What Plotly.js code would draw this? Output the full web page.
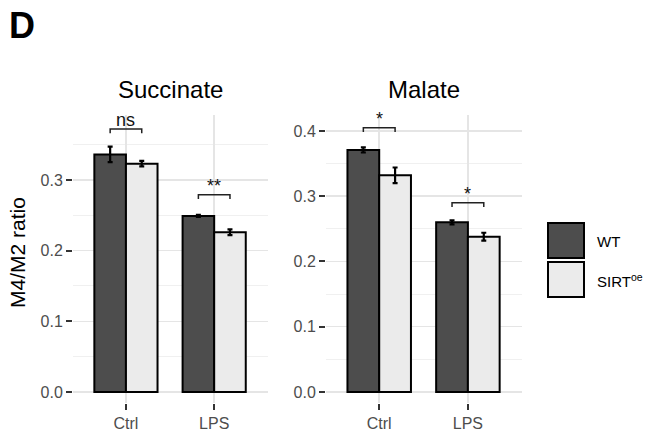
<!DOCTYPE html>
<html>
<head>
<meta charset="utf-8">
<script src="https://cdn.plot.ly/plotly-3.0.1.min.js"></script>
<style>html,body{margin:0;padding:0;background:#fff;}#chart{width:649px;height:439px;}</style>
</head>
<body>
<div id="chart"></div>
<script>
// ---- data ----
const categories = ['Ctrl', 'LPS'];
const catIndex = [0, 1];
const groups = ['WT', 'SIRT<sup>oe</sup>'];
const panels = ['Succinate', 'Malate'];

const succWT = [0.336, 0.249];
const succWTErr = [0.011, 0.0015];
const succSIRT = [0.323, 0.226];
const succSIRTErr = [0.004, 0.004];

const malWT = [0.371, 0.260];
const malWTErr = [0.004, 0.003];
const malSIRT = [0.332, 0.238];
const malSIRTErr = [0.012, 0.006];

const succSigY = [0.372, 0.279];
const succSigLabel = ['ns', '**'];
const malSigY = [0.405, 0.290];
const malSigLabel = ['*', '*'];

// ---- styles ----
const wtColor = '#4d4d4d';
const sirtColor = '#ebebeb';
const font = 'Liberation Sans, Arial, Helvetica, sans-serif';
const tickFont = {family: font, size: 16, color: '#4d4d4d'};
const bargap = 0.284;
const halfOff = (1 - bargap) / 4;

function barTrace(y, err, color, name, xa, ya) {
  return {
    type: 'bar', x: catIndex, y: y, name: name, xaxis: xa, yaxis: ya,
    marker: {color: color, line: {color: '#000', width: 2}},
    error_y: {type: 'data', array: err, visible: true, color: '#000', thickness: 2.2, width: 2.5},
    showlegend: false, hoverinfo: 'skip'
  };
}

const data = [
  barTrace(succWT, succWTErr, wtColor, 'WT', 'x', 'y'),
  barTrace(succSIRT, succSIRTErr, sirtColor, 'SIRT', 'x', 'y'),
  barTrace(malWT, malWTErr, wtColor, 'WT', 'x2', 'y2'),
  barTrace(malSIRT, malSIRTErr, sirtColor, 'SIRT', 'x2', 'y2')
];

const shapes = [];
const annotations = [];

function addBrackets(sigY, labels, xr, yr, drop) {
  sigY.forEach((h, i) => {
    const c = catIndex[i];
    shapes.push({
      type: 'path', xref: xr, yref: yr,
      path: `M ${c - halfOff} ${h - drop} L ${c - halfOff} ${h} L ${c + halfOff} ${h} L ${c + halfOff} ${h - drop}`,
      line: {color: '#222', width: 1.5}
    });
    annotations.push({
      xref: xr, yref: yr, x: c, y: h, text: labels[i], showarrow: false,
      yanchor: 'bottom', yshift: -3, font: {family: font, size: 18, color: '#111'}
    });
  });
}
addBrackets(succSigY, succSigLabel, 'x', 'y', 0.006);
addBrackets(malSigY, malSigLabel, 'x2', 'y2', 0.0065);

// panel titles
annotations.push({xref: 'x domain', yref: 'paper', x: 0.5, y: 1 - 89 / 439, text: panels[0], showarrow: false,
  xanchor: 'center', yanchor: 'middle', font: {family: font, size: 24, color: '#000'}});
annotations.push({xref: 'x2 domain', yref: 'paper', x: 0.5, y: 1 - 89 / 439, text: panels[1], showarrow: false,
  xanchor: 'center', yanchor: 'middle', font: {family: font, size: 24, color: '#000'}});
// y title
annotations.push({xref: 'paper', yref: 'paper', x: 17 / 649, y: 1 - 253 / 439, text: 'M4/M2 ratio', textangle: -90,
  showarrow: false, xanchor: 'center', yanchor: 'middle', font: {family: font, size: 21, color: '#000'}});
// panel letter
annotations.push({xref: 'paper', yref: 'paper', x: 7 / 649, y: 1 - 25 / 439, text: '<b>D</b>', showarrow: false,
  xanchor: 'left', yanchor: 'middle', font: {family: font, size: 36, color: '#000'}});

// custom legend
const legendColors = [wtColor, sirtColor];
const legendTops = [223, 262];
legendColors.forEach((col, i) => {
  const t = legendTops[i];
  shapes.push({type: 'rect', xref: 'paper', yref: 'paper', x0: 548 / 649, x1: 584 / 649,
    y0: 1 - (t + 35) / 439, y1: 1 - t / 439, fillcolor: col, line: {color: '#000', width: 2}});
  annotations.push({xref: 'paper', yref: 'paper', x: 595 / 649, y: 1 - (t + 18) / 439, text: groups[i],
    showarrow: false, xanchor: 'left', yanchor: 'middle', font: {family: font, size: 15, color: '#000'}});
});

const xaxisBase = {
  range: [-0.6, 1.61], tickvals: catIndex, ticktext: categories, tickfont: tickFont,
  showgrid: true, gridcolor: '#e5e5e5', gridwidth: 1.5, zeroline: false, showline: false,
  ticks: 'outside', ticklen: 6, tickwidth: 2, tickcolor: '#333', fixedrange: true
};
const yaxisBase = {
  dtick: 0.1, tickformat: '.1f', tickfont: tickFont,
  showgrid: true, gridcolor: '#e5e5e5', gridwidth: 1.5, zeroline: false, showline: false,
  ticks: 'outside', ticklen: 6, tickwidth: 2, tickcolor: '#333',
  minor: {dtick: 0.05, showgrid: true, gridcolor: '#f0f0f0', gridwidth: 1, ticks: ''},
  domain: [1 - 403 / 439, 1 - 115 / 439]
};

const layout = {
  width: 649, height: 439,
  margin: {l: 0, r: 0, t: 0, b: 0},
  paper_bgcolor: '#fff', plot_bgcolor: '#fff',
  barmode: 'group', bargap: bargap, bargroupgap: 0,
  showlegend: false,
  xaxis: Object.assign({}, xaxisBase, {domain: [73 / 649, 268 / 649], anchor: 'y'}),
  xaxis2: Object.assign({}, xaxisBase, {domain: [326 / 649, 522 / 649], anchor: 'y2'}),
  yaxis: Object.assign({}, yaxisBase, {range: [-0.0156, 0.3918], anchor: 'x'}),
  yaxis2: Object.assign({}, yaxisBase, {range: [-0.0169, 0.4245], anchor: 'x2'}),
  shapes: shapes,
  annotations: annotations
};

Plotly.newPlot('chart', data, layout, {displayModeBar: false, staticPlot: true});
</script>
</body>
</html>
